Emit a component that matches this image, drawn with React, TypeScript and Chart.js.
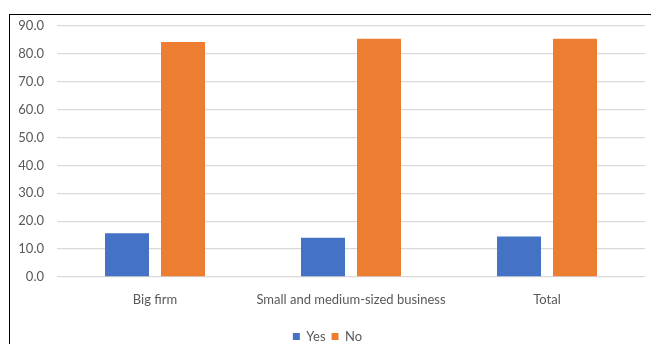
import React, { useEffect, useRef } from "react";
import { Chart, registerables } from "chart.js";

Chart.register(...registerables);

const categories = ["Big firm", "Small and medium-sized business", "Total"];
const yesValues = [15.7, 14.1, 14.5];
const noValues = [84.2, 85.4, 85.4];
const seriesNames = ["Yes", "No"];

const FONT = "Lato, 'Open Sans', sans-serif";
const TEXT = "#595959";

export default function App() {
  const ref = useRef<HTMLCanvasElement | null>(null);

  useEffect(() => {
    const canvas = ref.current;
    if (!canvas) return;
    const chart = new Chart(canvas, {
      type: "bar",
      data: {
        labels: categories,
        datasets: [
          {
            label: seriesNames[0],
            data: yesValues,
            backgroundColor: "#4472C4",
            categoryPercentage: 0.5714,
            barPercentage: 0.7857,
          },
          {
            label: seriesNames[1],
            data: noValues,
            backgroundColor: "#ED7D31",
            categoryPercentage: 0.5714,
            barPercentage: 0.7857,
          },
        ],
      },
      options: {
        animation: false,
        responsive: false,
        maintainAspectRatio: false,
        layout: { padding: { top: 0, right: 6, bottom: 0, left: 0 } },
        plugins: {
          tooltip: { enabled: false },
          legend: {
            position: "bottom",
            labels: {
              boxWidth: 7,
              boxHeight: 7,
              padding: 6,
              color: TEXT,
              font: { family: FONT, size: 13 },
            },
          },
        },
        scales: {
          x: {
            grid: { display: false },
            border: { display: false },
            ticks: {
              color: TEXT,
              font: { family: FONT, size: 13 },
              padding: 7,
              maxRotation: 0,
            },
            afterFit: (scale: any) => {
              scale.height = 47;
            },
          },
          y: {
            min: 0,
            max: 90,
            grid: { color: "#d9d9d9", lineWidth: 1.3, drawTicks: false },
            border: { display: false },
            ticks: {
              stepSize: 10,
              color: TEXT,
              font: { family: FONT, size: 13 },
              padding: 13,
              callback: (v: any) => Number(v).toFixed(1),
            },
            afterFit: (scale: any) => {
              scale.width = 47;
            },
          },
        },
      },
    });
    return () => chart.destroy();
  }, []);

  return (
    <div
      style={{
        position: "fixed",
        left: 0,
        top: 0,
        width: 651,
        height: 344,
        overflow: "hidden",
        background: "#fff",
      }}
    >
      <div
        style={{
          position: "absolute",
          left: 9,
          top: 14,
          width: 700,
          height: 400,
          borderTop: "1px solid #000",
          borderLeft: "1px solid #000",
        }}
      />
      <div
        style={{
          position: "absolute",
          left: 10,
          top: 15,
          width: 641,
          height: 329,
          overflow: "hidden",
        }}
      >
        <canvas
          ref={ref}
          width={641}
          height={348}
          style={{ position: "absolute", left: 0, top: -10, width: 641, height: 348 }}
        />
      </div>
    </div>
  );
}
